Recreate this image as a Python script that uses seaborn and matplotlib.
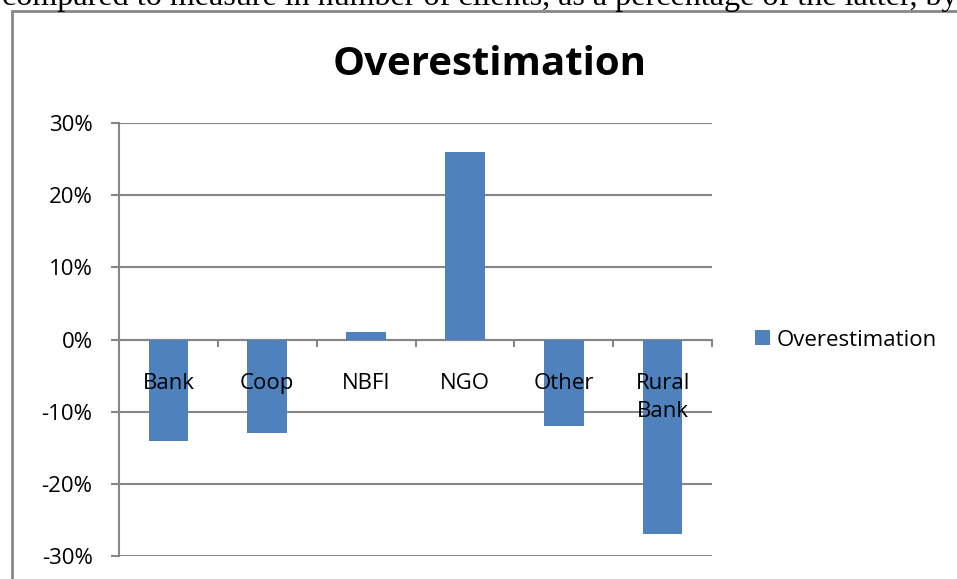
import matplotlib
matplotlib.use("Agg")
import matplotlib.pyplot as plt
import seaborn as sns
import pandas as pd
import numpy as np
from matplotlib.ticker import FuncFormatter, FixedLocator
from matplotlib.lines import Line2D
from matplotlib.patches import Patch

categories = ["Bank", "Coop", "NBFI", "NGO", "Other", "Rural\nBank"]
values = [-0.14, -0.13, 0.01, 0.26, -0.12, -0.27]
series_name = "Overestimation"
yticks = [-0.3, -0.2, -0.1, 0.0, 0.1, 0.2, 0.3]

sns.set_style("white")
plt.rcParams['font.family'] = ['Open Sans', 'DejaVu Sans']
plt.rcParams['text.color'] = 'black'
plt.rcParams['xtick.labelcolor'] = 'black'
plt.rcParams['ytick.labelcolor'] = 'black'

GRAY = "#868686"
BLUE = "#4F81BD"

W, H = 957, 579
fig = plt.figure(figsize=(W / 100, H / 100), dpi=100)
ax = fig.add_axes([119 / W, 1 - 556 / H, (712 - 119) / W, (556 - 123) / H])

df = pd.DataFrame({"category": categories, "value": values})
sns.barplot(data=df, x="category", y="value", color=BLUE, width=0.4,
            saturation=1, ax=ax, zorder=2, edgecolor="none", linewidth=0)

ax.set_ylim(-0.3, 0.3)
ax.set_xlim(-0.5, len(categories) - 0.5)
ax.set_yticks(yticks)
ax.yaxis.set_major_formatter(FuncFormatter(lambda v, p: f"{v*100:.0f}%".replace("-0%", "0%")))
ax.grid(axis="y", color=GRAY, linewidth=1.5, zorder=0)
ax.set_axisbelow(True)
ax.set_xlabel("")
ax.set_ylabel("")

for s in ["top", "right"]:
    ax.spines[s].set_visible(False)
ax.spines["left"].set_color(GRAY)
ax.spines["left"].set_linewidth(1.5)
ax.spines["bottom"].set_position(("data", 0))
ax.spines["bottom"].set_color(GRAY)
ax.spines["bottom"].set_linewidth(1.5)
ax.spines["bottom"].set_zorder(1)

# major ticks at category boundaries, labels at centers (minor)
ax.xaxis.set_major_locator(FixedLocator(np.arange(-0.5, len(categories), 1.0)))
ax.xaxis.set_major_formatter(FuncFormatter(lambda v, p: ""))
ax.xaxis.set_minor_locator(FixedLocator(np.arange(len(categories))))
ax.set_xticklabels(categories, minor=True)
ax.tick_params(axis="x", which="major", direction="out", length=5, width=1.5, color=GRAY, bottom=True)
ax.tick_params(axis="x", which="minor", length=0, pad=24, labelsize=16, labelcolor="black")
ax.xaxis.set_zorder(5)
for lbl in ax.get_xticklabels(minor=True):
    lbl.set_verticalalignment("top")
    lbl.set_linespacing(1.45)
    lbl.set_zorder(5)
ax.tick_params(axis="y", direction="out", length=6, width=1.5, color=GRAY, left=True,
               labelsize=16, pad=13, labelcolor="black")

ax.set_title(series_name, fontsize=29, fontweight="bold", color="black",
             x=(490 - 119) / (712 - 119), y=1 + (123 - 75) / (556 - 123), pad=0)

ax.legend(handles=[Patch(facecolor=BLUE, edgecolor="none", label=series_name)],
          loc="center left", bbox_to_anchor=(755 / W, 1 - 340 / H), bbox_transform=fig.transFigure,
          frameon=False, fontsize=16, handlelength=0.68, handleheight=0.68, handletextpad=0.3,
          borderaxespad=0, borderpad=0, labelcolor="black")

# chart frame (cut off) and text above
x0 = 12 / W
yt = 1 - 11 / H
fig.add_artist(Line2D([x0, x0], [0, yt], transform=fig.transFigure, color=GRAY, linewidth=2))
fig.add_artist(Line2D([x0, 1], [yt, yt], transform=fig.transFigure, color=GRAY, linewidth=2))
fig.text(2 / W, 1 - 5 / H, "compared to measure in number of clients, as a percentage of the latter, by",
         family=["Liberation Serif"], fontsize=23.1, va="baseline", ha="left", color="black")

fig.savefig("out.png", dpi=100)
